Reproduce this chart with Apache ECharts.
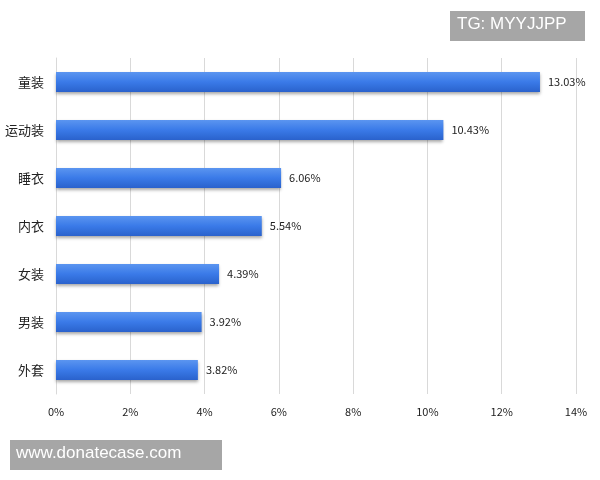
<!DOCTYPE html>
<html><head><meta charset="utf-8">
<script src="https://cdn.jsdelivr.net/npm/echarts@6/dist/echarts.min.js"></script>
<style>html,body{margin:0;background:#fff}#c{width:600px;height:480px}</style>
</head><body><div id="c"></div>
<script>
const categories = ['童装','运动装','睡衣','内衣','女装','男装','外套'];
const values = [13.03,10.43,6.06,5.54,4.39,3.92,3.82];
const chart = echarts.init(document.getElementById('c'));
chart.setOption({
  animation:false,
  grid:{left:56,right:24,top:58,bottom:86},
  xAxis:{type:'value',min:0,max:14,interval:2,
    axisLabel:{formatter:'{value}%',color:'#222',fontSize:11,margin:12,fontFamily:'Noto Sans CJK SC'},
    splitLine:{lineStyle:{color:'#d9d9d9'}},axisLine:{show:false},axisTick:{show:false}},
  yAxis:{type:'category',inverse:true,data:categories,
    axisLabel:{color:'#222',fontSize:13,margin:12,fontFamily:'Noto Sans CJK SC'},
    axisLine:{lineStyle:{color:'#d9d9d9'}},axisTick:{show:false}},
  series:[{type:'bar',data:values,barWidth:20,
    itemStyle:{color:new echarts.graphic.LinearGradient(0,0,0,1,[{offset:0,color:'#5b95f0'},{offset:0.5,color:'#3a7ae8'},{offset:1,color:'#2a62cc'}]),
      shadowColor:'rgba(0,0,0,0.35)',shadowBlur:3,shadowOffsetY:2},
    label:{show:true,position:'right',distance:8,formatter:p=>p.value.toFixed(2)+'%',color:'#222',fontSize:11,fontFamily:'Noto Sans CJK SC'}}],
  graphic:[
    {type:'rect',left:450,top:11,shape:{width:135,height:30},style:{fill:'#a6a6a6'}},
    {type:'text',left:457,top:16,style:{text:'TG: MYYJJPP',fill:'#fff',fontSize:17,fontFamily:'Liberation Sans'}},
    {type:'rect',left:10,top:440,shape:{width:212,height:30},style:{fill:'#a6a6a6'}},
    {type:'text',left:16,top:445,style:{text:'www.donatecase.com',fill:'#fff',fontSize:17,fontFamily:'Liberation Sans'}}
  ]
});
</script></body></html>
